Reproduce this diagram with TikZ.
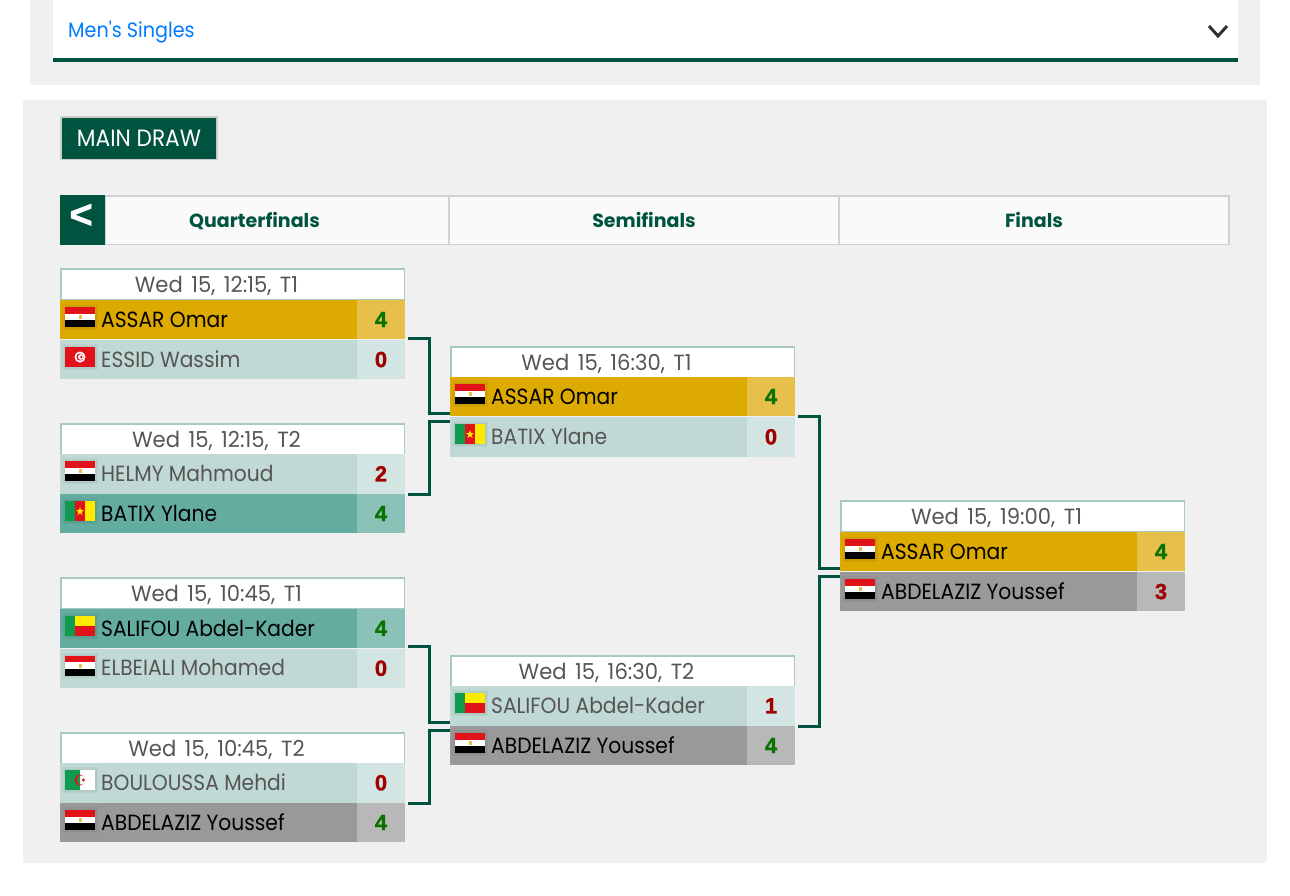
\documentclass[tikz,border=0pt]{standalone}
\usepackage{fontspec}
\setmainfont{Poppins}
\newfontfamily\nf[FakeStretch=0.92]{Poppins}
\newfontfamily\tf[FakeStretch=0.96,WordSpace=1.5]{Poppins}
\newfontfamily\lf[BoldFeatures={FakeBold=1.2}]{Liberation Sans}
\usetikzlibrary{calc}
\definecolor{panel}{HTML}{F0F0F0}
\definecolor{dk}{HTML}{00533F}
\definecolor{hdrline}{HTML}{A8CAC2}
\definecolor{goldA}{HTML}{DCAA00}\definecolor{goldB}{HTML}{E6C04A}
\definecolor{paleA}{HTML}{C0D9D4}\definecolor{paleB}{HTML}{D2E5E2}
\definecolor{tealA}{HTML}{63AC9F}\definecolor{tealB}{HTML}{8BC2B7}
\definecolor{greyA}{HTML}{999999}\definecolor{greyB}{HTML}{B8B8B8}
\definecolor{txt}{HTML}{555555}
\definecolor{okc}{HTML}{0A7300}\definecolor{badc}{HTML}{A00000}
\definecolor{flR}{HTML}{E2121A}\definecolor{flG}{HTML}{0F9A50}\definecolor{flY}{HTML}{FFEB00}
\definecolor{linkblue}{HTML}{007BFF}
\tikzset{
  box/.style={rectangle,inner sep=0pt,outer sep=0pt,anchor=north west},
  hdr/.style={box,fill=white,draw=hdrline,line width=1.5pt,minimum width=343.5pt,minimum height=31pt},
  timetxt/.style={inner sep=0pt,anchor=base,text=txt,font=\tf\fontsize{22}{24}\selectfont},
  nametxt/.style={inner sep=0pt,anchor=base west,font=\nf\fontsize{22}{24}\selectfont},
  scoretxt/.style={inner sep=0pt,font=\lf\bfseries\fontsize{22}{24}\selectfont},
  conn/.style={draw=dk,line width=3pt,line join=miter},
  tab/.style={inner sep=0pt,anchor=base,text=dk,font=\bfseries\fontsize{19}{22}\selectfont},
  x=1pt,y=-1pt
}
\newcommand\flagEG{\fill[flR](0,0)rectangle(30,6.7);\fill[white](0,6.7)rectangle(30,13.3);\fill[black](0,13.3)rectangle(30,20);\fill[goldB](13.5,8)rectangle(16.5,12);}
\newcommand\flagTN{\fill[flR](0,0)rectangle(30,20);\fill[white](15,10)circle(5.5);\fill[flR](15,10)circle(3.6);\fill[white](15.8,10)circle(2.8);\fill[flR](16.3,10)circle(1.3);}
\newcommand\flagCM{\fill[flG](0,0)rectangle(10,20);\fill[flR](10,0)rectangle(20,20);\fill[flY](20,0)rectangle(30,20);\fill[flY](15,6)--(16,9)--(19,9)--(16.6,10.9)--(17.5,14)--(15,12.1)--(12.5,14)--(13.4,10.9)--(11,9)--(14,9)--cycle;}
\newcommand\flagBJ{\fill[flG](0,0)rectangle(10,20);\fill[flY](10,0)rectangle(30,10);\fill[flR](10,10)rectangle(30,20);}
\newcommand\flagDZ{\fill[flG](0,0)rectangle(15,20);\fill[white](15,0)rectangle(30,20);\fill[flR](15,10)circle(5.5);\begin{scope}\clip(15,0)rectangle(30,20);\fill[white](16.5,10)circle(4.6);\end{scope}\begin{scope}\clip(0,0)rectangle(15,20);\fill[flG](16.5,10)circle(4.6);\end{scope}\fill[flR](18.5,10)circle(1.6);}
\newcommand\rowscore{}
\newcommand\setscore[1]{\renewcommand\rowscore{#1}}
% \rowbox{id}{x}{y}{h}{kind}{flag}{name}{textcolour}{scorecolour}
\newcommand\rowbox[9]{%
  \node[box,fill=#5A,minimum width=297pt,minimum height=#4pt] (#1) at (#2,#3) {};
  \node[box,fill=#5B,minimum width=48pt,minimum height=#4pt] (#1s) at ($(#2,#3)+(297,0)$) {};
  \node[scoretxt,text=#9] (#1v) at (#1s.center) {\rowscore};
  \begin{scope}[shift={($(#2,#3)+(5,7)$)}]
    \fill[black,opacity=.03](-3,-3)rectangle(33,23);
    \fill[black,opacity=.04](-1.5,-1.5)rectangle(31.5,21.5);
    #6
  \end{scope}
  \node[nametxt,text=#8] (#1n) at ($(#2,#3)+(41,27)$) {#7};
}
\newcommand\hdrbox[4]{%
  \node[hdr] (#1) at ($(#2,#3)+(0.75,0.75)$) {};
  \node[timetxt] (#1t) at ($(#2,#3)+(156.5,24)$) {#4};
}
\newcommand\bracket[3]{%
  \draw[conn] ([xshift=3pt]#1s.south east) -- ++(21,0) |- ([yshift=3pt]#3a.south west);
  \draw[conn] ([xshift=3pt]#2s.north east) -- ++(21,0) |- ([yshift=-4pt]#3b.north west);
}
\newcommand\bracketq[3]{%
  \draw[conn] ([xshift=3pt,yshift=1pt]#1s.south east) -- ++(21,0) |- ([yshift=3pt]#3a.south west);
  \draw[conn] ([xshift=3pt]#2s.north east) -- ++(21,0) |- ([yshift=-4pt]#3b.north west);
}
\begin{document}
\begin{tikzpicture}
\useasboundingbox (0,0) rectangle (1290,895);
\fill[white] (0,0) rectangle (1290,895);
% top panel
\node[box,fill=panel,minimum width=1230pt,minimum height=85pt] (panelA) at (30,0) {};
\node[box,fill=white,minimum width=1185pt,minimum height=58pt] (selectbox) at (53,0) {};
\node[box,fill=dk,minimum width=1185pt,minimum height=4pt] (selectbar) at (53,58) {};
\node[inner sep=0pt,anchor=base west,text=linkblue,font=\nf\fontsize{20.8}{24}\selectfont] (eventname) at (68,37) {Men's Singles};
\draw[line width=3pt,draw=black!80] (1209,26) -- (1218,36) -- (1227,26);
% main panel
\node[box,fill=panel,minimum width=1244pt,minimum height=763pt] (panelB) at (23,100) {};
\node[box,fill=dk,draw=black!20,line width=1.5pt,minimum width=156pt,minimum height=42.5pt,text=white,font=\nf\fontsize{23.6}{24}\selectfont] (maindraw) at (61,117) {MAIN DRAW};
% tabs
\node[box,fill=white!98!black,draw=black!18,line width=1.5pt,minimum width=1124pt,minimum height=48.5pt] (tabbar) at (105,196) {};
\draw[black!18,line width=1.5pt] (tabbar.north west) ++(344,0) coordinate (d1) -- (d1 |- tabbar.south);
\draw[black!18,line width=1.5pt] (tabbar.north west) ++(734,0) coordinate (d2) -- (d2 |- tabbar.south);
\node[box,fill=dk,minimum width=45pt,minimum height=50pt] (back) at (60,195) {};
\node[inner sep=0pt,text=white,font=\lf\bfseries\fontsize{40}{44}\selectfont] (backsym) at (81,216) {<};
\node[tab] (tabQ) at (254.5,227.5) {Quarterfinals};
\node[tab] (tabS) at (644,227.5) {Semifinals};
\node[tab] (tabF) at (1034,227.5) {Finals};
% Quarterfinal 1
\hdrbox{qA}{60}{268}{Wed 15, 12:15, T1}
\setscore{4}\rowbox{qAa}{60}{300}{39}{gold}{\flagEG}{ASSAR Omar}{black}{okc}
\setscore{0}\rowbox{qAb}{60}{340}{39}{pale}{\flagTN}{ESSID Wassim}{txt}{badc}
% Quarterfinal 2
\hdrbox{qB}{60}{423}{Wed 15, 12:15, T2}
\setscore{2}\rowbox{qBa}{60}{454}{39.5}{pale}{\flagEG}{HELMY Mahmoud}{txt}{badc}
\setscore{4}\rowbox{qBb}{60}{494}{39}{teal}{\flagCM}{BATIX Ylane}{black}{okc}
% Quarterfinal 3
\hdrbox{qC}{60}{577}{Wed 15, 10:45, T1}
\setscore{4}\rowbox{qCa}{60}{609}{38.5}{teal}{\flagBJ}{SALIFOU Abdel-Kader}{black}{okc}
\setscore{0}\rowbox{qCb}{60}{648.5}{39.5}{pale}{\flagEG}{ELBEIALI Mohamed}{txt}{badc}
% Quarterfinal 4
\hdrbox{qD}{60}{732}{Wed 15, 10:45, T2}
\setscore{0}\rowbox{qDa}{60}{763}{39.5}{pale}{\flagDZ}{BOULOUSSA Mehdi}{txt}{badc}
\setscore{4}\rowbox{qDb}{60}{803}{39}{grey}{\flagEG}{ABDELAZIZ Youssef}{black}{okc}
% Semifinal 1
\hdrbox{sA}{450}{346}{Wed 15, 16:30, T1}
\setscore{4}\rowbox{sAa}{450}{377}{39}{gold}{\flagEG}{ASSAR Omar}{black}{okc}
\setscore{0}\rowbox{sAb}{450}{417}{39.5}{pale}{\flagCM}{BATIX Ylane}{txt}{badc}
% Semifinal 2
\hdrbox{sB}{450}{655}{Wed 15, 16:30, T2}
\setscore{1}\rowbox{sBa}{450}{686}{39.5}{pale}{\flagBJ}{SALIFOU Abdel-Kader}{txt}{badc}
\setscore{4}\rowbox{sBb}{450}{726}{39}{grey}{\flagEG}{ABDELAZIZ Youssef}{black}{okc}
% Final
\hdrbox{fA}{840}{500}{Wed 15, 19:00, T1}
\setscore{4}\rowbox{fAa}{840}{532}{39}{gold}{\flagEG}{ASSAR Omar}{black}{okc}
\setscore{3}\rowbox{fAb}{840}{572}{39}{grey}{\flagEG}{ABDELAZIZ Youssef}{black}{badc}
% connectors
\bracketq{qAa}{qBb}{sA}
\bracketq{qCa}{qDb}{sB}
\bracket{sAa}{sBb}{fA}
\end{tikzpicture}
\end{document}
